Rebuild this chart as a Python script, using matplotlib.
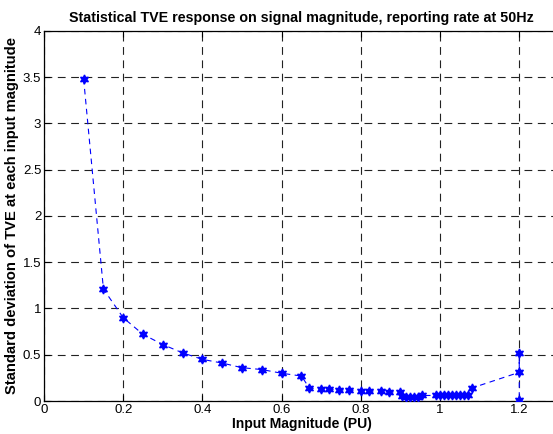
import matplotlib
matplotlib.use("Agg")
import matplotlib.pyplot as plt

plt.rcParams['font.family'] = ['Liberation Sans', 'DejaVu Sans']

magnitude = [0.10, 0.15, 0.20, 0.25, 0.30, 0.35, 0.40, 0.45, 0.50, 0.55, 0.60, 0.65,
             0.67, 0.70, 0.72, 0.745, 0.77, 0.80, 0.82, 0.85, 0.87, 0.90,
             0.905, 0.915, 0.925, 0.935, 0.945, 0.955,
             0.99, 1.00, 1.01, 1.02, 1.03, 1.04, 1.05, 1.06, 1.07, 1.08,
             1.20, 1.20, 1.20]
tve_std = [3.48, 1.21, 0.90, 0.72, 0.61, 0.52, 0.45, 0.41, 0.36, 0.34, 0.30, 0.27,
           0.14, 0.13, 0.13, 0.12, 0.12, 0.11, 0.11, 0.105, 0.10, 0.095,
           0.05, 0.04, 0.04, 0.04, 0.045, 0.06,
           0.06, 0.06, 0.06, 0.06, 0.06, 0.06, 0.06, 0.06, 0.06, 0.14,
           0.31, 0.52, 0.01]

x_ticks = [0, 0.2, 0.4, 0.6, 0.8, 1.0, 1.2]
x_labels = ['0', '0.2', '0.4', '0.6', '0.8', '1', '1.2']
y_ticks = [0, 0.5, 1, 1.5, 2, 2.5, 3, 3.5, 4]
y_labels = ['0', '0.5', '1', '1.5', '2', '2.5', '3', '3.5', '4']

fig = plt.figure(figsize=(5.53, 4.34), dpi=100)
ax = fig.add_axes([0.0796, 0.076, 0.931, 0.853])

ax.plot(magnitude, tve_std, color='#0000ff', linestyle=(0, (5, 4)), linewidth=0.8,
        marker=(6, 1, 0), markersize=6.5, markerfacecolor='#0000ff',
        markeredgecolor='#0000ff', zorder=3)

ax.set_xlim(0, 1.3)
ax.set_ylim(0, 4)
ax.set_xticks(x_ticks)
ax.set_xticklabels(x_labels)
ax.set_yticks(y_ticks)
ax.set_yticklabels(y_labels)
ax.tick_params(direction='in', top=True, right=False, labelsize=9.5, length=4, width=0.8, pad=2)
ax.grid(True, color='#222222', linestyle=(0, (7, 5)), linewidth=0.8)
for s in ax.spines.values():
    s.set_linewidth(0.9)

ax.set_title('Statistical TVE response on signal magnitude, reporting rate at 50Hz',
             fontsize=10.3, fontweight='bold', pad=6)
ax.set_xlabel('Input Magnitude (PU)', fontsize=10, fontweight='bold', labelpad=1)
ax.set_ylabel('Standard deviation of TVE at each input magnitude', fontsize=10.6,
              fontweight='bold', labelpad=3)

fig.savefig('out.png', dpi=100)
